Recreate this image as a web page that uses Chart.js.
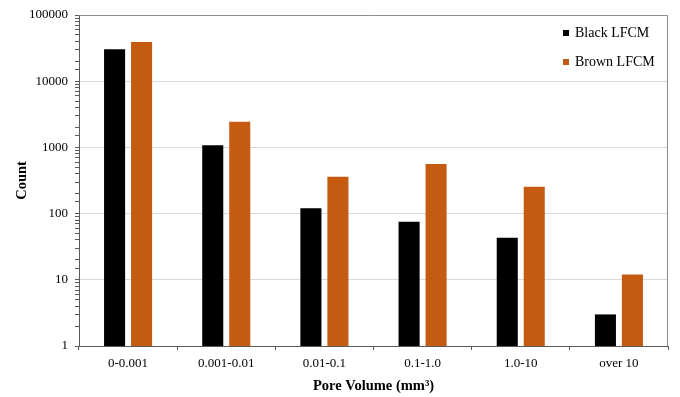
<!DOCTYPE html>
<html><head><meta charset="utf-8">
<script src="https://cdn.jsdelivr.net/npm/chart.js@4/dist/chart.umd.min.js"></script>
<style>html,body{margin:0;padding:0;background:#fff}#w{width:680px;height:397px}</style>
</head><body><div id="w"><canvas id="c"></canvas></div>
<script>
const categories = ['0-0.001','0.001-0.01','0.01-0.1','0.1-1.0','1.0-10','over 10'];
const blackLFCM = [30500, 1080, 120, 75, 43, 3];
const brownLFCM = [39000, 2450, 360, 560, 255, 12];
const seriesNames = ['Black LFCM','Brown LFCM'];
const seriesColors = ['#000000','#C55A11'];
const majorTicks = [1,10,100,1000,10000,100000];

const FONT = "'Liberation Serif','Times New Roman',serif";

const framePlugin = {
  id:'frame',
  afterDraw(chart){
    const {ctx, chartArea:a} = chart;
    ctx.save();
    ctx.strokeStyle='#8c8c8c'; ctx.lineWidth=1;
    ctx.beginPath();
    ctx.moveTo(a.left, a.top+0.5); ctx.lineTo(a.right-0.5, a.top+0.5); ctx.lineTo(a.right-0.5, a.bottom);
    ctx.stroke();
    // legend
    ctx.font = "14px " + FONT;
    ctx.textBaseline='middle';
    const ys=[33,62];
    chart.data.datasets.forEach((ds,i)=>{
      ctx.fillStyle=ds.backgroundColor;
      ctx.fillRect(563, ys[i]-3, 6, 6);
      ctx.fillStyle='#000';
      ctx.fillText(ds.label, 575, ys[i]);
    });
    ctx.restore();
  }
};

new Chart(document.getElementById('c'), {
  type:'bar',
  data:{
    labels:categories,
    datasets:[
      {label:seriesNames[0], data:blackLFCM, backgroundColor:seriesColors[0], barPercentage:0.78, categoryPercentage:0.55},
      {label:seriesNames[1], data:brownLFCM, backgroundColor:seriesColors[1], barPercentage:0.78, categoryPercentage:0.55}
    ]
  },
  options:{
    responsive:true, maintainAspectRatio:false, animation:false,
    layout:{padding:{left:0,top:15,right:12,bottom:0}},
    plugins:{legend:{display:false}, tooltip:{enabled:false}},
    scales:{
      x:{
        grid:{display:true, offset:true, drawOnChartArea:false, drawTicks:true, tickLength:4, tickColor:'#595959'},
        border:{display:true, color:'#595959', width:1},
        ticks:{font:{family:FONT, size:13}, color:'#000', padding:6, maxRotation:0},
        title:{display:true, text:'Pore Volume (mm³)', font:{family:FONT, size:14.5, weight:'bold'}, color:'#000', padding:{top:4,bottom:2}},
        afterFit(s){ s.height = 51; }
      },
      y:{
        type:'logarithmic', min:1, max:100000,
        grid:{
          color:(c)=> (c.tick && majorTicks.includes(c.tick.value)) ? '#d9d9d9' : 'rgba(0,0,0,0)',
          tickColor:'#595959', drawTicks:true, tickLength:4
        },
        border:{display:true, color:'#595959', width:1},
        ticks:{
          font:{family:FONT, size:13}, color:'#000', padding:7, autoSkip:false,
          callback:(v)=> majorTicks.includes(v) ? String(v) : ''
        },
        title:{display:true, text:'Count', font:{family:FONT, size:14.5, weight:'bold'}, color:'#000', padding:{top:14,bottom:0}},
        afterFit(s){ s.width = 79; }
      }
    }
  },
  plugins:[framePlugin]
});
</script>
</body></html>
